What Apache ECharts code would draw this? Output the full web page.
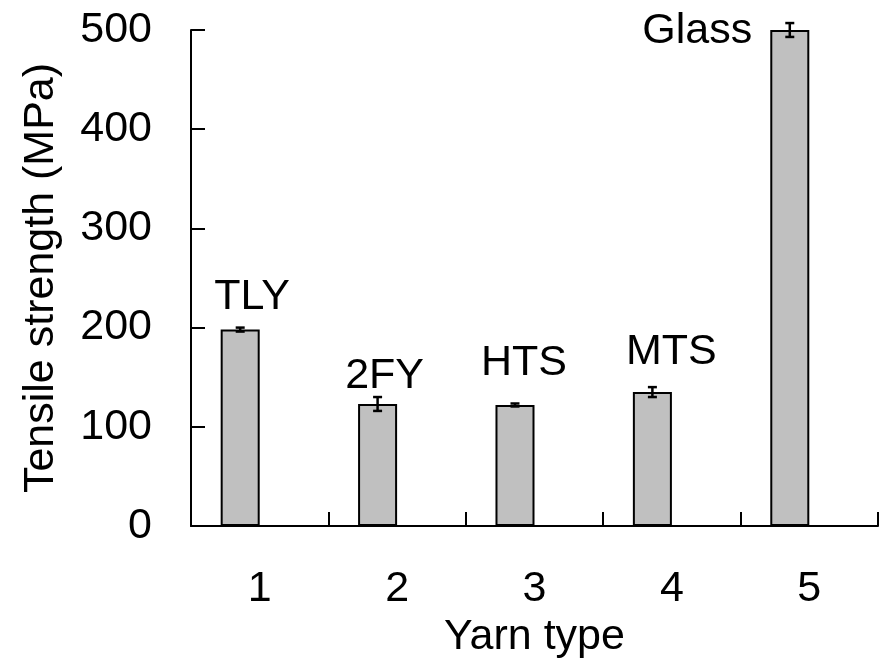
<!DOCTYPE html>
<html>
<head>
<meta charset="utf-8">
<script src="https://cdn.jsdelivr.net/npm/echarts@6/dist/echarts.min.js"></script>
<style>
html, body { margin: 0; padding: 0; background: #fff; }
#main { width: 881px; height: 665px; }
</style>
</head>
<body>
<div id="main"></div>
<script>
// yarn types on the x axis
const categories = ['1', '2', '3', '4', '5'];
// mean tensile strength (MPa) and error (+/-)
const strength = [198, 123, 122, 135, 500];
const errors = [2, 7, 1.5, 5, 7];
// names written above the bars
const yarnNames = ['TLY', '2FY', 'HTS', 'MTS', 'Glass'];

const FONT = 'Arial, "Liberation Sans", sans-serif';
const BAR_FRAC = 0.284; // bar width as part of a category band

// label placement per bar
const labelPlace = [
	{ position: 'top', distance: 11, offset: [12, 0] },
	{ position: 'top', distance: 6, offset: [7, 0] },
	{ position: 'top', distance: 20, offset: [9, 0] },
	{ position: 'top', distance: 18, offset: [19, 0] },
	{ position: [-18, 1], align: 'right', verticalAlign: 'middle' }
];

const barData = strength.map((v, i) => ({
	value: v,
	label: Object.assign({ show: true, formatter: yarnNames[i] }, labelPlace[i])
}));

const errData = strength.map((v, i) => [i, v - errors[i], v + errors[i]]);

const chart = echarts.init(document.getElementById('main'));
chart.setOption({
	animation: false,
	grid: { left: 191, right: 3, top: 30, bottom: 139 },
	xAxis: {
		type: 'category',
		data: categories,
		name: 'Yarn type',
		nameLocation: 'middle',
		nameGap: 76,
		nameTextStyle: { fontFamily: FONT, fontSize: 43, color: '#000' },
		axisLine: { lineStyle: { color: '#000', width: 2 } },
		axisTick: { show: true, interval: 0, inside: true, length: 14, lineStyle: { color: '#000', width: 2 } },
		axisLabel: { fontFamily: FONT, fontSize: 43, color: '#000', margin: 42 }
	},
	yAxis: {
		type: 'value',
		min: 0,
		max: 500,
		interval: 100,
		name: 'Tensile strength (MPa)',
		nameLocation: 'middle',
		nameGap: 128,
		nameTextStyle: { fontFamily: FONT, fontSize: 43, color: '#000' },
		splitLine: { show: false },
		axisLine: { show: true, lineStyle: { color: '#000', width: 2 } },
		axisTick: { show: true, inside: true, length: 14, lineStyle: { color: '#000', width: 2 } },
		axisLabel: { fontFamily: FONT, fontSize: 43, color: '#000', margin: 39 }
	},
	series: [
		{
			type: 'bar',
			data: barData,
			barWidth: (BAR_FRAC * 100) + '%',
			barGap: '0%',
			itemStyle: { color: '#c0c0c0', borderColor: '#000', borderWidth: 2 },
			label: { fontFamily: FONT, fontSize: 43, color: '#000' },
			z: 2
		},
		{
			// empty companion series, pushes the real bars left of centre
			type: 'bar',
			data: strength.map(() => null),
			barWidth: (BAR_FRAC * 100) + '%',
			barGap: '0%'
		},
		{
			type: 'custom',
			data: errData,
			z: 5,
			renderItem: function (params, api) {
				const band = api.size([1, 0])[0];
				const shift = -band * BAR_FRAC / 2;
				const lo = api.coord([api.value(0), api.value(1)]);
				const hi = api.coord([api.value(0), api.value(2)]);
				const x = lo[0] + shift;
				const cap = 4.5;
				const style = { stroke: '#000', lineWidth: 2.5 };
				return {
					type: 'group',
					children: [
						{ type: 'line', shape: { x1: x, y1: lo[1], x2: x, y2: hi[1] }, style: style },
						{ type: 'line', shape: { x1: x - cap, y1: lo[1], x2: x + cap, y2: lo[1] }, style: style },
						{ type: 'line', shape: { x1: x - cap, y1: hi[1], x2: x + cap, y2: hi[1] }, style: style }
					]
				};
			}
		}
	]
});
</script>
</body>
</html>
